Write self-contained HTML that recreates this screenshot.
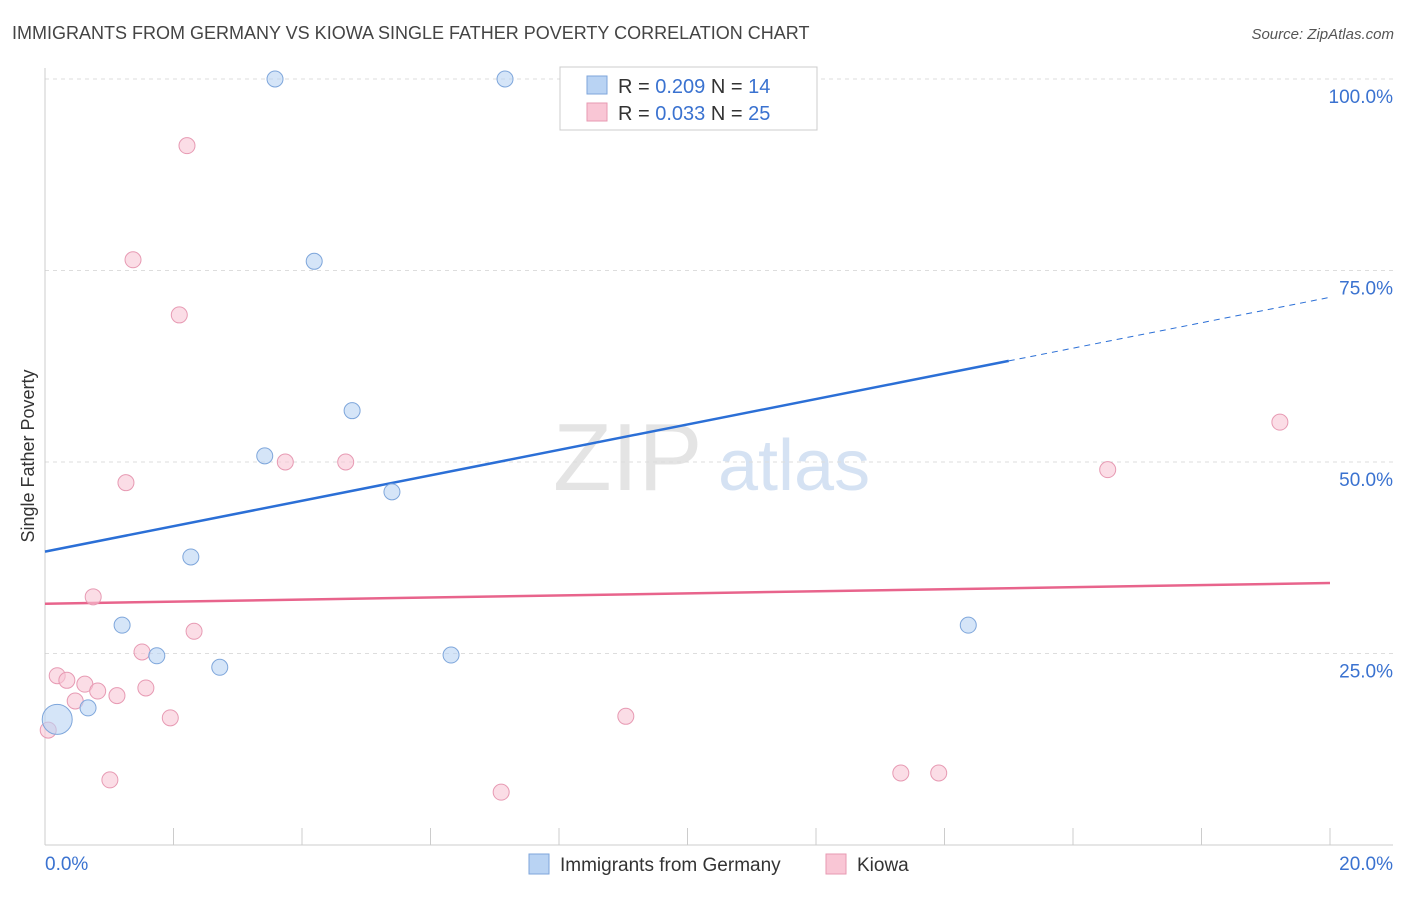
<!DOCTYPE html>
<html><head><meta charset="utf-8"><style>
body{margin:0;background:#fff;font-family:"Liberation Sans",sans-serif;}
svg text{font-family:"Liberation Sans",sans-serif;}
</style></head><body>
<svg id="chart" width="1406" height="892" xmlns="http://www.w3.org/2000/svg">
<text x="12" y="39" font-size="18" fill="#444">IMMIGRANTS FROM GERMANY VS KIOWA SINGLE FATHER POVERTY CORRELATION CHART</text>
<text x="1394" y="39" font-size="15" fill="#555" font-style="italic" text-anchor="end">Source: ZipAtlas.com</text>
<g>
<text x="553" y="490" font-size="96" fill="#e4e4e4" font-family="Liberation Serif">ZIP</text>
<text x="718" y="490" font-size="72" fill="#d5e2f3">atlas</text>
</g>
<g id="grid"></g>
<g id="axes"></g>
<g id="lines"></g>
<g id="points"></g>
<text transform="translate(34,456) rotate(-90)" font-size="18" fill="#333" text-anchor="middle">Single Father Poverty</text>
<g>
<rect x="560" y="67" width="257" height="63" fill="#fff" stroke="#ccc"/>
<rect x="587" y="76" width="20" height="18" fill="#b9d3f3" stroke="#7ea6db"/>
<rect x="587" y="103" width="20" height="18" fill="#f9c6d5" stroke="#e799b2"/>
<text x="618" y="93" font-size="20" fill="#333">R = <tspan fill="#3a72d0">0.209</tspan>   N = <tspan fill="#3a72d0">14</tspan></text>
<text x="618" y="120" font-size="20" fill="#333">R = <tspan fill="#3a72d0">0.033</tspan>   N = <tspan fill="#3a72d0">25</tspan></text>
</g>
<g>
<rect x="529" y="854" width="20" height="20" fill="#b9d3f3" stroke="#7ea6db"/>
<text x="560" y="871" font-size="19" fill="#333">Immigrants from Germany</text>
<rect x="826" y="854" width="20" height="20" fill="#f9c6d5" stroke="#e799b2"/>
<text x="857" y="871" font-size="19" fill="#333">Kiowa</text>
</g>
</svg>
<script>
const NS="http://www.w3.org/2000/svg";
const yTicks=[25,50,75,100];
const yTickLabels=["25.0%","50.0%","75.0%","100.0%"];
const xTickLabels=["0.0%","20.0%"];
const germanyX=[3.58,7.16,4.19,4.78,3.42,5.40,2.27,1.20,1.74,2.72,6.32,0.67,14.37,0.19];
const germanyY=[100,100,76.2,56.7,50.8,46.1,37.6,28.7,24.7,23.2,24.8,17.9,28.7,16.4];
const germanyR=[8,8,8,8,8,8,8,8,8,8,8,8,8,15];
const kiowaX=[2.21,1.37,2.09,3.74,4.68,1.26,0.75,2.32,1.51,0.19,0.34,0.62,0.82,1.57,1.12,0.47,1.95,0.05,9.04,1.01,7.10,13.32,13.91,16.54,19.22];
const kiowaY=[91.3,76.4,69.2,50.0,50.0,47.3,32.4,27.9,25.2,22.1,21.5,21.0,20.1,20.5,19.5,18.8,16.6,15.0,16.8,8.5,6.9,9.4,9.4,49.0,55.2];
const germanyTrend=[38.3,71.5];
const germanyTrendSolidEnd=15.0;
const kiowaTrend=[31.5,34.2];
const X=v=>45+v/20*1285;
const Y=v=>845-v*7.66;
function mk(tag,attrs,parent){const e=document.createElementNS(NS,tag);for(const k in attrs)e.setAttribute(k,attrs[k]);document.getElementById(parent).appendChild(e);return e;}
yTicks.forEach((t,i)=>{
 const l=mk('line',{x1:45,x2:1393,y1:Y(t),y2:Y(t),stroke:'#ddd','stroke-dasharray':'4,4'},'grid');
 
 
 const tx=mk('text',{x:1393,y:Y(t)+24,'font-size':19,fill:'#3a72d0','text-anchor':'end'},'grid');
 tx.textContent=yTickLabels[i];
 
 
});
const ya=mk('line',{x1:45,x2:45,y1:68,y2:845,stroke:'#ccc'},'axes');


const xa=mk('line',{x1:45,x2:1393,y1:845,y2:845,stroke:'#ccc'},'axes');


for(let i=0;i<=10;i++){const t=mk('line',{x1:X(i*2),x2:X(i*2),y1:828,y2:845,stroke:'#ccc'},'axes');
 
 }
[[0,'start',45],[20,'end',1393]].forEach((a,i)=>{const t=mk('text',{x:a[2],y:870,'font-size':19,fill:'#3a72d0','text-anchor':a[1]},'axes');t.textContent=xTickLabels[i];
 
 });
const gl=mk('line',{x1:X(0),y1:Y(germanyTrend[0]),x2:X(germanyTrendSolidEnd),y2:Y(germanyTrend[0]+(germanyTrend[1]-germanyTrend[0])*germanyTrendSolidEnd/20),stroke:'#2b6fd6','stroke-width':2.5},'lines');


const gd=mk('line',{x1:X(germanyTrendSolidEnd),y1:Y(germanyTrend[0]+(germanyTrend[1]-germanyTrend[0])*germanyTrendSolidEnd/20),x2:X(20),y2:Y(germanyTrend[1]),stroke:'#2b6fd6','stroke-width':1,'stroke-dasharray':'6,5'},'lines');


const kl=mk('line',{x1:X(0),y1:Y(kiowaTrend[0]),x2:X(20),y2:Y(kiowaTrend[1]),stroke:'#e8648c','stroke-width':2.5},'lines');


kiowaX.forEach((x,i)=>{const c=mk('circle',{cx:X(x),cy:Y(kiowaY[i]),r:8,fill:'rgba(249,198,213,0.6)',stroke:'#e79ab3'},'points');
 
 });
germanyX.forEach((x,i)=>{const c=mk('circle',{cx:X(x),cy:Y(germanyY[i]),r:germanyR[i],fill:'rgba(185,211,243,0.6)',stroke:'#7ea6db'},'points');
 
 });
</script>
</body></html>
